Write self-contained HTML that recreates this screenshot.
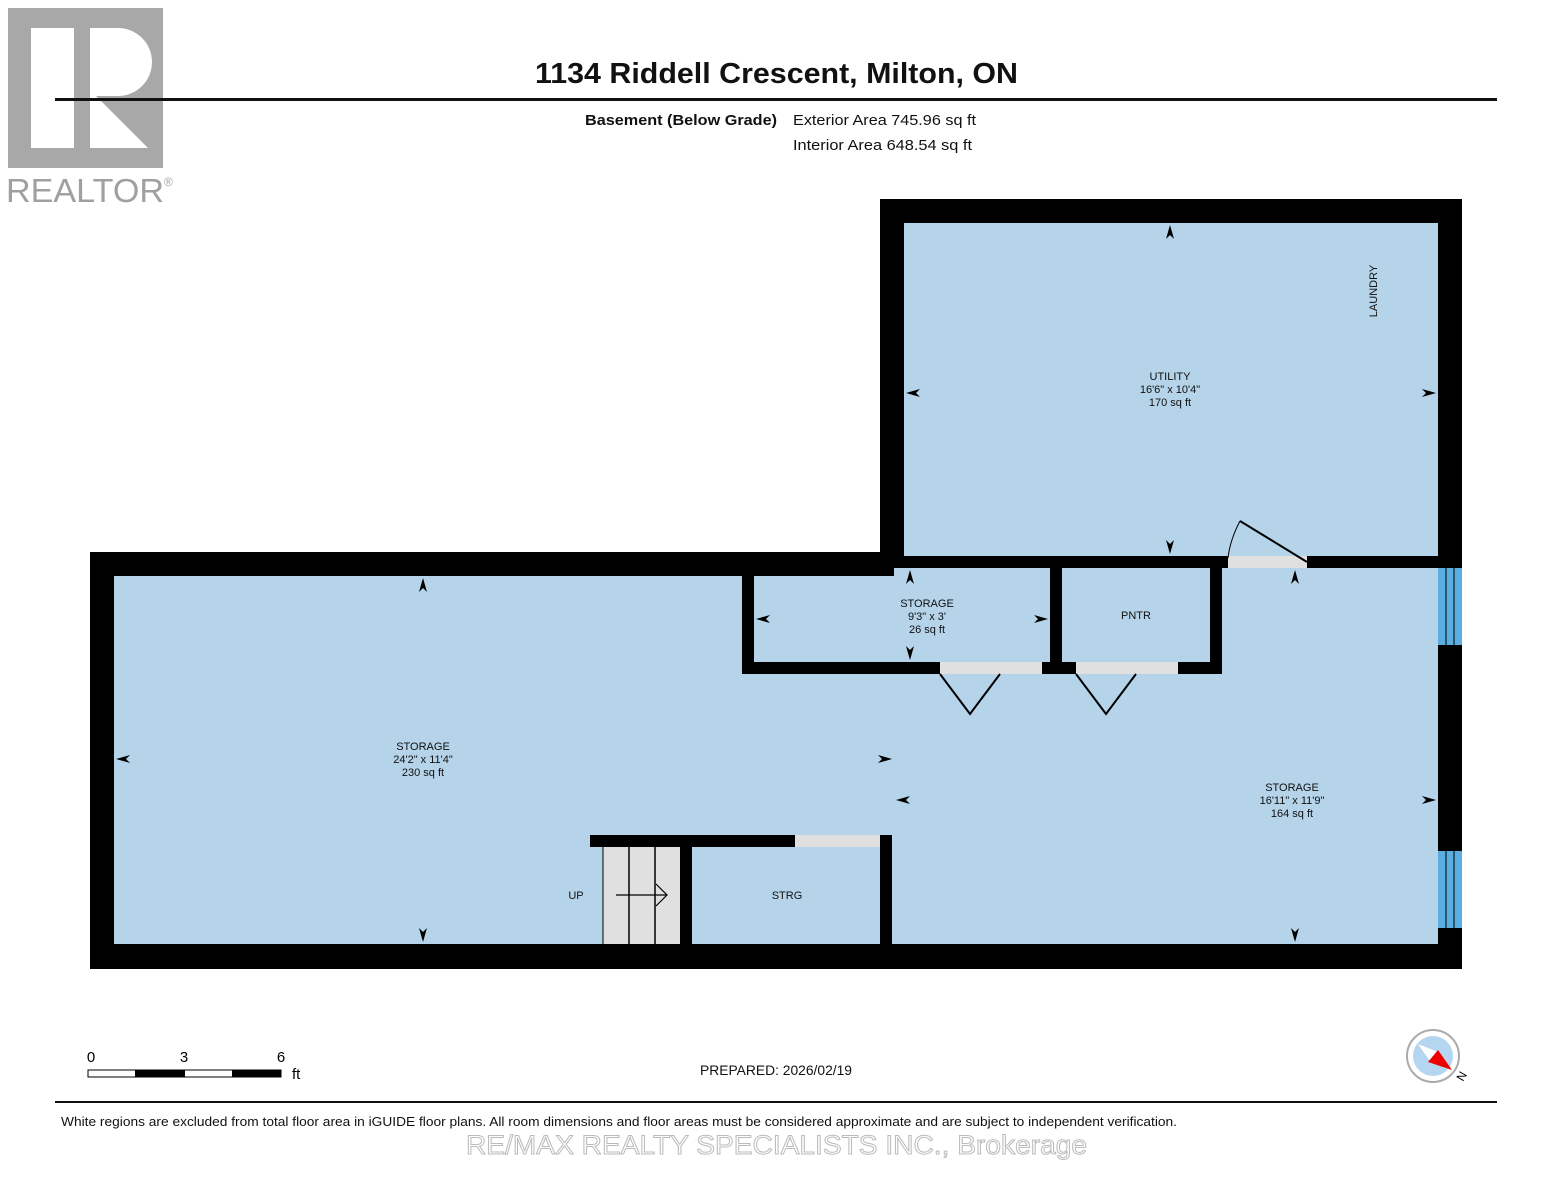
<!DOCTYPE html>
<html><head><meta charset="utf-8"><style>
body{margin:0;width:1553px;height:1200px;background:#fff;position:relative;overflow:hidden;font-family:"Liberation Sans",Arial,sans-serif}
</style></head><body>
<svg width="1553" height="1200" viewBox="0 0 1553 1200" xmlns="http://www.w3.org/2000/svg" style="position:absolute;left:0;top:0">
<!-- logo -->
<rect x="8" y="8" width="155" height="160" fill="#a8a8a8"/>
<rect x="31" y="28" width="43" height="120" fill="#fff"/>
<path d="M90 28 H118 A34 34 0 0 1 118 96 H90 Z" fill="#fff"/>
<path d="M90 90 L148 148 H90 Z" fill="#fff"/>
<text x="6" y="202" font-size="33" fill="#a0a0a0" textLength="158" lengthAdjust="spacingAndGlyphs">REALTOR</text>
<text x="164" y="186" font-size="12" fill="#a0a0a0">®</text>
<!-- title -->
<text x="535" y="83" font-size="29" font-weight="bold" fill="#111" textLength="483" lengthAdjust="spacingAndGlyphs">1134 Riddell Crescent, Milton, ON</text>
<rect x="55" y="98" width="1442" height="3" fill="#111"/>
<text x="585" y="125" font-size="15" font-weight="bold" fill="#111" textLength="192" lengthAdjust="spacingAndGlyphs">Basement (Below Grade)</text>
<text x="793" y="125" font-size="15" fill="#111" textLength="183" lengthAdjust="spacingAndGlyphs">Exterior Area 745.96 sq ft</text>
<text x="793" y="150" font-size="15" fill="#111" textLength="179" lengthAdjust="spacingAndGlyphs">Interior Area 648.54 sq ft</text>
<!-- floor -->
<rect x="90" y="552" width="810" height="417" fill="#000"/>
<rect x="880" y="199" width="582" height="770" fill="#000"/>
<rect x="114" y="576" width="780" height="368" fill="#b5d3e9"/>
<rect x="894" y="568" width="544" height="376" fill="#b5d3e9"/>
<rect x="880" y="576" width="20" height="100" fill="#b5d3e9"/>
<rect x="904" y="223" width="534" height="333" fill="#b5d3e9"/>
<!-- utility door -->
<rect x="1228" y="556" width="79" height="12" fill="#e0e0e0"/>
<line x1="1307" y1="562" x2="1240" y2="521" stroke="#000" stroke-width="2"/>
<path d="M1240 521 Q1230 540 1228 558" stroke="#000" stroke-width="1" fill="none"/>
<!-- small storage / pntr -->
<rect x="742" y="568" width="12" height="106" fill="#000"/>
<rect x="742" y="662" width="480" height="12" fill="#000"/>
<rect x="1050" y="568" width="12" height="106" fill="#000"/>
<rect x="1210" y="568" width="12" height="106" fill="#000"/>
<rect x="754" y="576" width="126" height="86" fill="#b5d3e9"/>
<rect x="940" y="662" width="102" height="12" fill="#e0e0e0"/>
<rect x="1076" y="662" width="102" height="12" fill="#e0e0e0"/>
<polyline points="940,674 970,714 1000,674" stroke="#000" stroke-width="2" fill="none"/>
<polyline points="1076,674 1106,714 1136,674" stroke="#000" stroke-width="2" fill="none"/>
<!-- windows -->
<rect x="1438" y="568" width="24" height="77" fill="#5aaee0"/>
<rect x="1438" y="851" width="24" height="77" fill="#5aaee0"/>
<line x1="1446" y1="568" x2="1446" y2="645" stroke="#000"/><line x1="1454" y1="568" x2="1454" y2="645" stroke="#000"/>
<line x1="1446" y1="851" x2="1446" y2="928" stroke="#000"/><line x1="1454" y1="851" x2="1454" y2="928" stroke="#000"/>
<!-- stairs / strg -->
<rect x="590" y="835" width="300" height="12" fill="#000"/>
<rect x="795" y="835" width="85" height="12" fill="#e0e0e0"/>
<rect x="880" y="835" width="12" height="110" fill="#000"/>
<rect x="603" y="847" width="77" height="97" fill="#e0e0e0"/>
<rect x="680" y="847" width="12" height="98" fill="#000"/>
<line x1="603" y1="847" x2="603" y2="944" stroke="#000"/>
<line x1="629" y1="847" x2="629" y2="944" stroke="#000" stroke-width="1.5"/>
<line x1="655" y1="847" x2="655" y2="944" stroke="#000" stroke-width="1.5"/>
<line x1="616" y1="895" x2="667" y2="895" stroke="#000" stroke-width="1.2"/>
<polyline points="656,884 667,895 656,906" stroke="#000" stroke-width="1.2" fill="none"/>
<rect x="686" y="944" width="776" height="25" fill="#000"/>
<!-- arrowheads -->
<g fill="#000">
<path d="M1170 225 l-4 14 l4 -4 l4 4z"/><path d="M1170 554 l-4 -14 l4 4 l4 -4z"/>
<path d="M906 393 l14 -4 l-4 4 l4 4z"/><path d="M1436 393 l-14 -4 l4 4 l-4 4z"/>
<path d="M423 578 l-4 14 l4 -4 l4 4z"/><path d="M423 942 l-4 -14 l4 4 l4 -4z"/>
<path d="M116 759 l14 -4 l-4 4 l4 4z"/><path d="M892 759 l-14 -4 l4 4 l-4 4z"/>
<path d="M910 570 l-4 14 l4 -4 l4 4z"/><path d="M910 660 l-4 -14 l4 4 l4 -4z"/>
<path d="M756 619 l14 -4 l-4 4 l4 4z"/><path d="M1048 619 l-14 -4 l4 4 l-4 4z"/>
<path d="M1295 570 l-4 14 l4 -4 l4 4z"/><path d="M1295 942 l-4 -14 l4 4 l4 -4z"/>
<path d="M896 800 l14 -4 l-4 4 l4 4z"/><path d="M1436 800 l-14 -4 l4 4 l-4 4z"/>
</g>
<g font-size="11" fill="#111" text-anchor="middle">
<text x="1170" y="380">UTILITY</text><text x="1170" y="393">16'6" x 10'4"</text><text x="1170" y="406">170 sq ft</text>
<text x="423" y="750">STORAGE</text><text x="423" y="763">24'2" x 11'4"</text><text x="423" y="776">230 sq ft</text>
<text x="927" y="607">STORAGE</text><text x="927" y="620">9'3" x 3'</text><text x="927" y="633">26 sq ft</text>
<text x="1292" y="791">STORAGE</text><text x="1292" y="804">16'11" x 11'9"</text><text x="1292" y="817">164 sq ft</text>
<text x="1136" y="619">PNTR</text><text x="787" y="899">STRG</text><text x="576" y="899">UP</text>
<text x="1377" y="291" transform="rotate(-90 1377 291)">LAUNDRY</text>
</g>
<!-- scale -->
<text x="91" y="1062" font-size="15" text-anchor="middle">0</text>
<text x="184" y="1062" font-size="15" text-anchor="middle">3</text>
<text x="281" y="1062" font-size="15" text-anchor="middle">6</text>
<text x="292" y="1079" font-size="15">ft</text>
<rect x="88" y="1070" width="193" height="7" fill="#fff" stroke="#000"/>
<rect x="135" y="1070" width="50" height="7" fill="#000"/>
<rect x="232" y="1070" width="49" height="7" fill="#000"/>
<text x="700" y="1075" font-size="14" fill="#111" textLength="152" lengthAdjust="spacingAndGlyphs">PREPARED: 2026/02/19</text>
<!-- compass -->
<circle cx="1433" cy="1056" r="26" fill="#fff" stroke="#aaa" stroke-width="2"/>
<circle cx="1433" cy="1056" r="20" fill="#b5d6f0"/>
<path d="M1418 1044 L1438 1052 L1432 1064Z" fill="#fff"/>
<path d="M1438 1050 L1452 1070 L1428 1062Z" fill="#e00"/>
<text x="1463" y="1082" font-size="12" transform="rotate(-60 1463 1082)">N</text>
<rect x="55" y="1101" width="1442" height="2" fill="#111"/>
<text x="61" y="1126" font-size="13" fill="#111" textLength="1116" lengthAdjust="spacingAndGlyphs">White regions are excluded from total floor area in iGUIDE floor plans. All room dimensions and floor areas must be considered approximate and are subject to independent verification.</text>
<text x="466" y="1154" font-size="27" fill="#fff" stroke="#bbb" stroke-width="1" textLength="621" lengthAdjust="spacingAndGlyphs">RE/MAX REALTY SPECIALISTS INC., Brokerage</text>
</svg>
</body></html>
